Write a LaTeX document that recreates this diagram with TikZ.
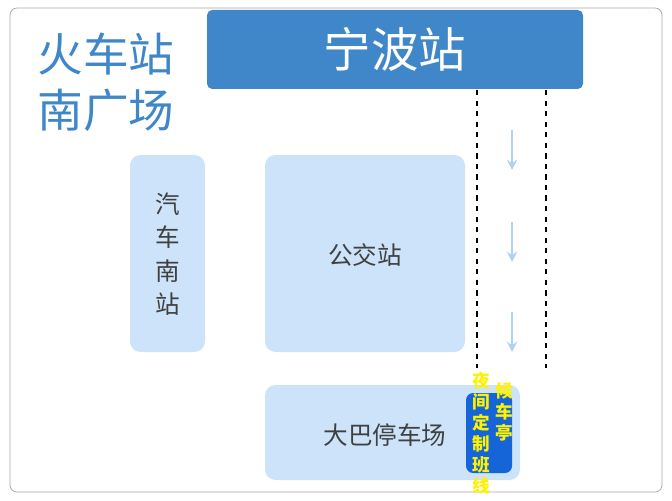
\documentclass[tikz,border=0pt]{standalone}
\usepackage{fontspec}
\setmainfont{Noto Sans CJK SC}
\usetikzlibrary{positioning}
\colorlet{background}{white}
\definecolor{penColor}{HTML}{3F87C9}
\definecolor{lightArea}{HTML}{CCE3FA}
\definecolor{stopBlue}{HTML}{1565D8}
\tikzset{>=stealth,
  area/.style={fill=lightArea,rounded corners=6pt,draw=none},
  areatext/.style={font=\fontsize{14}{17}\selectfont,text=black!75},
  downarrow/.style={->,line width=1.6pt,draw=lightArea!80!penColor}}
\begin{document}
\begin{tikzpicture}[x=0.02cm,y=-0.02cm]
\useasboundingbox (0,0) rectangle (672,500);
\draw[black!35,rounded corners=4pt] (10,8) rectangle (662,492);% outer frame
\fill[penColor,rounded corners=3pt] (207,10) rectangle (583,89);
\node[text=white,font=\fontsize{27}{30}\selectfont] (station) at (395,49) {宁波站};
\node[text=penColor,font=\fontsize{26}{32}\selectfont,align=left] (square) at (106,82) {火车站\\南广场};
\fill[area] (130,155) rectangle (205,352);
\node[areatext,align=center,font=\fontsize{14}{19}\selectfont] (coach) at (168,254) {汽\\车\\南\\站};
\fill[area] (265,155) rectangle (465,352);
\node[areatext] (bus) at (365,255) {公交站};
\fill[area] (265,385) rectangle (520,480);
\node[areatext] (park) at (385,435) {大巴停车场};
\fill[stopBlue,rounded corners=4pt] (466,393) rectangle (512,473);
\node[text=yellow,font=\bfseries\fontsize{10}{12}\selectfont,align=center] (night) at (481,433) {夜\\间\\定\\制\\班\\线};
\node[text=yellow,font=\bfseries\fontsize{10}{12}\selectfont,align=center,right=-4pt of night.east,yshift=12pt] (shelter) {候\\车\\亭};
\coordinate (laneL) at (477,90);
\coordinate (laneR) at (546,90);
\draw[dashed,thick] (laneL) -- ++(0,278);
\draw[dashed,thick] (laneR) -- ++(0,278);
\foreach \y in {130,222,312}
  \draw[downarrow] (512,\y) -- ++(0,40);
\end{tikzpicture}
\end{document}
